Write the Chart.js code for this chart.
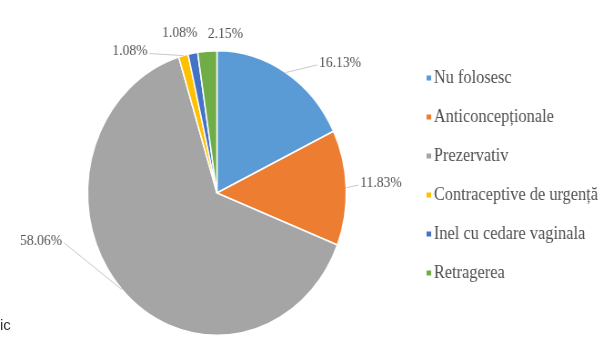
<!DOCTYPE html>
<html>
<head>
<meta charset="utf-8">
<script src="https://cdn.jsdelivr.net/npm/chart.js@4.4.0/dist/chart.umd.min.js"></script>
<style>
  html, body { margin: 0; padding: 0; background: #fff; overflow: hidden; }
  #wrap { position: relative; width: 603px; height: 347px; }
  #frag { position: absolute; left: 0px; top: 316px; font: 15px "Liberation Sans", sans-serif; color: #333; }
</style>
</head>
<body>
<div id="wrap">
  <!-- drawn wide, then shown a bit narrower -->
  <canvas id="pieChart" width="663" height="347" style="width:603px;height:347px"></canvas>
  <div id="frag">ic</div>
</div>
<script>
const categories = ['Nu folosesc', 'Anticoncepționale', 'Prezervativ', 'Contraceptive de urgență', 'Inel cu cedare vaginala', 'Retragerea'];
const percentages = [16.13, 11.83, 58.06, 1.08, 1.08, 2.15];
const sliceColors = ['#5B9BD5', '#ED7D31', '#A5A5A5', '#FFC000', '#4472C4', '#70AD47'];

// where each value label sits: radius factor, angle shift (deg), leader line on/off
const labelSpots = [
  { k: 1.32, shift: 14, line: true },
  { k: 1.27, shift: -1, line: true },
  { k: 1.40, shift: 29, line: true },
  { k: 1.20, shift: -19, line: true },
  { k: 1.16, shift: -3.6, line: false },
  { k: 1.12, shift: 7.7, line: false }
];

const serifFont = '"Liberation Serif", "Times New Roman", serif';
const labelSize = 15;
const legendSize = 18;
const legendX = 469;
const legendTop = 78;
const legendStep = 39;

const pieLabels = {
  id: 'pieLabels',
  afterDatasetsDraw(chart) {
    const ctx = chart.ctx;
    const meta = chart.getDatasetMeta(0);
    ctx.save();
    ctx.font = labelSize + 'px ' + serifFont;
    ctx.textBaseline = 'middle';
    ctx.textAlign = 'center';
    meta.data.forEach((arc, i) => {
      const p = arc.getProps(['x', 'y', 'startAngle', 'endAngle', 'outerRadius'], true);
      const mid = (p.startAngle + p.endAngle) / 2;
      const spot = labelSpots[i];
      const a = mid + spot.shift * Math.PI / 180;
      const lx = p.x + Math.cos(a) * p.outerRadius * spot.k;
      const ly = p.y + Math.sin(a) * p.outerRadius * spot.k;
      const ex = p.x + Math.cos(mid) * p.outerRadius;
      const ey = p.y + Math.sin(mid) * p.outerRadius;
      const text = percentages[i].toFixed(2) + '%';
      const w = ctx.measureText(text).width;
      if (spot.line) {
        const ax = lx > ex ? lx - w / 2 - 2 : lx + w / 2 + 2;
        ctx.strokeStyle = '#c8c8c8';
        ctx.lineWidth = 1;
        ctx.beginPath();
        ctx.moveTo(ax, ly + 2);
        ctx.lineTo(ex, ey);
        ctx.stroke();
      }
      ctx.fillStyle = '#505050';
      ctx.fillText(text, lx, ly);
    });
    ctx.restore();
  }
};

const sideLegend = {
  id: 'sideLegend',
  afterDraw(chart) {
    const ctx = chart.ctx;
    ctx.save();
    ctx.font = legendSize + 'px ' + serifFont;
    ctx.textBaseline = 'middle';
    ctx.textAlign = 'left';
    categories.forEach((name, i) => {
      const y = legendTop + i * legendStep;
      ctx.fillStyle = sliceColors[i];
      ctx.fillRect(legendX, y - 2.5, 5, 5);
      ctx.fillStyle = '#505050';
      ctx.fillText(name, legendX + 8, y);
    });
    ctx.restore();
  }
};

function makeChart() {
  new Chart(document.getElementById('pieChart'), {
    type: 'pie',
    data: {
      labels: categories,
      datasets: [{
        data: percentages,
        backgroundColor: sliceColors,
        borderColor: '#ffffff',
        borderWidth: 1.5
      }]
    },
    options: {
      responsive: false,
      animation: false,
      devicePixelRatio: 1,
      layout: { padding: { left: 95.5, right: 281.5, top: 50, bottom: 11 } },
      plugins: {
        legend: { display: false },
        tooltip: { enabled: false }
      }
    },
    plugins: [pieLabels, sideLegend]
  });
}

document.fonts.load('16px "Liberation Serif"').then(makeChart, makeChart);
</script>
</body>
</html>
